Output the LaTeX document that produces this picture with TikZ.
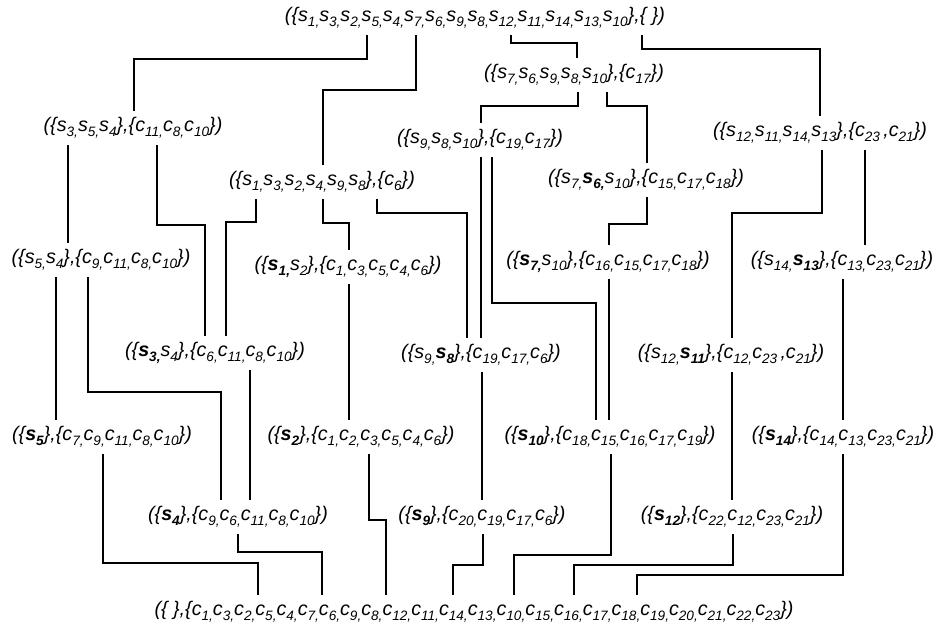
\documentclass[tikz,border=0pt]{standalone}
\usepackage{fontspec}
\setmainfont{Liberation Sans}
\usepackage{tikz}
\newcommand{\labelfont}{\fontsize{19.7}{23}\selectfont\itshape}
\newcommand{\lowsub}[1]{\raisebox{-0.27em}{\fontsize{13.6}{14}\selectfont #1}}
\newcommand{\ssub}[1]{s\lowsub{#1}}
\newcommand{\csub}[1]{c\lowsub{#1}}
\newcommand{\bsub}[1]{\textbf{s\lowsub{#1}}}
\begin{document}
\begin{tikzpicture}[x=1pt,y=-1pt,line width=1.1pt,every node/.style={font=\labelfont,inner xsep=0pt,inner ysep=6pt}]
  \useasboundingbox (0,0) rectangle (935,633);
  \path (475,18) node (t0) {(\{\ssub{1,}\ssub{3,}\ssub{2,}\ssub{5,}\ssub{4,}\ssub{7,}\ssub{6,}\ssub{9,}\ssub{8,}\ssub{12,}\ssub{11,}\ssub{14,}\ssub{13,}\ssub{10}\},\{ \})}
  (574,75) node (t1) {(\{\ssub{7,}\ssub{6,}\ssub{9,}\ssub{8,}\ssub{10}\},\{\csub{17}\})}
  (133,128) node (t2) {(\{\ssub{3,}\ssub{5,}\ssub{4}\},\{\csub{11,}\csub{8,}\csub{10}\})}
  (480,140) node (t3) {(\{\ssub{9,}\ssub{8,}\ssub{10}\},\{\csub{19,}\csub{17}\})}
  (820,133) node (t4) {(\{\ssub{12,}\ssub{11,}\ssub{14,}\ssub{13}\},\{\csub{23}\,,\csub{21}\})}
  (322,182) node (t5) {(\{\ssub{1,}\ssub{3,}\ssub{2,}\ssub{4,}\ssub{9,}\ssub{8}\},\{\csub{6}\})}
  (646,180) node (t6) {(\{\ssub{7,}\bsub{6,}\ssub{10}\},\{\csub{15,}\csub{17,}\csub{18}\})}
  (101,260) node (t7) {(\{\ssub{5,}\ssub{4}\},\{\csub{9,}\csub{11,}\csub{8,}\csub{10}\})}
  (348,267) node (t8) {(\{\bsub{1,}\ssub{2}\},\{\csub{1,}\csub{3,}\csub{5,}\csub{4,}\csub{6}\})}
  (608,262) node (t9) {(\{\bsub{7,}\ssub{10}\},\{\csub{16,}\csub{15,}\csub{17,}\csub{18}\})}
  (842,262) node (t10) {(\{\ssub{14,}\bsub{13}\},\{\csub{13,}\csub{23,}\csub{21}\})}
  (215,353) node (t11) {(\{\bsub{3,}\ssub{4}\},\{\csub{6,}\csub{11,}\csub{8,}\csub{10}\})}
  (481,355) node (t12) {(\{\ssub{9,}\bsub{8}\},\{\csub{19,}\csub{17,}\csub{6}\})}
  (731,355) node (t13) {(\{\ssub{12,}\bsub{11}\},\{\csub{12,}\csub{23}\,,\csub{21}\})}
  (102,437) node (t14) {(\{\bsub{5}\},\{\csub{7,}\csub{9,}\csub{11,}\csub{8,}\csub{10}\})}
  (361,437) node (t15) {(\{\bsub{2}\},\{\csub{1,}\csub{2,}\csub{3,}\csub{5,}\csub{4,}\csub{6}\})}
  (610,437) node (t16) {(\{\bsub{10}\},\{\csub{18,}\csub{15,}\csub{16,}\csub{17,}\csub{19}\})}
  (843,437) node (t17) {(\{\bsub{14}\},\{\csub{14,}\csub{13,}\csub{23,}\csub{21}\})}
  (238,517) node (t18) {(\{\bsub{4}\},\{\csub{9,}\csub{6,}\csub{11,}\csub{8,}\csub{10}\})}
  (482,517) node (t19) {(\{\bsub{9}\},\{\csub{20,}\csub{19,}\csub{17,}\csub{6}\})}
  (732,517) node (t20) {(\{\bsub{12}\},\{\csub{22,}\csub{12,}\csub{23,}\csub{21}\})}
  (474,612) node (t21) {(\{ \},\{\csub{1,}\csub{3,}\csub{2,}\csub{5,}\csub{4,}\csub{7,}\csub{6,}\csub{9,}\csub{8,}\csub{12,}\csub{11,}\csub{14,}\csub{13,}\csub{10,}\csub{15,}\csub{16,}\csub{17,}\csub{18,}\csub{19,}\csub{20,}\csub{21,}\csub{22,}\csub{23}\})};
  \draw (t0.south -| 367,0) |- (134,59) -- (t2.north -| 134,0);
  \draw (t0.south -| 416,0) |- (323,90) -- (t5.north -| 323,0);
  \draw (t0.south -| 511,0) |- (577,43) -- (t1.north -| 577,0);
  \draw (t0.south -| 642,0) |- (820,49) -- (t4.north -| 820,0);
  \draw (t1.south -| 578,0) |- (481,106) -- (t3.north -| 481,0);
  \draw (t1.south -| 607,0) |- (647,106) -- (t6.north -| 647,0);
  \draw (t2.south -| 68,0) -- (t7.north -| 68,0);
  \draw (t2.south -| 157,0) |- (205,225) -- (t11.north -| 205,0);
  \draw (t3.south -| 481,0) -- (t12.north -| 481,0);
  \draw (t3.south -| 492,0) |- (596,303) -- (t16.north -| 596,0);
  \draw (t4.south -| 822,0) |- (732,213) -- (t13.north -| 732,0);
  \draw (t4.south -| 865,0) -- (t10.north -| 865,0);
  \draw (t5.south -| 256,0) |- (226,222) -- (t11.north -| 226,0);
  \draw (t5.south -| 323,0) |- (349,223) -- (t8.north -| 349,0);
  \draw (t5.south -| 377,0) |- (467,213) -- (t12.north -| 467,0);
  \draw (t6.south -| 647,0) |- (609,224) -- (t9.north -| 609,0);
  \draw (t7.south -| 56,0) -- (t14.north -| 56,0);
  \draw (t7.south -| 88,0) |- (221,392) -- (t18.north -| 221,0);
  \draw (t8.south -| 349,0) -- (t15.north -| 349,0);
  \draw (t9.south -| 609,0) -- (t16.north -| 609,0);
  \draw (t10.south -| 843,0) -- (t17.north -| 843,0);
  \draw (t11.south -| 250,0) -- (t18.north -| 250,0);
  \draw (t12.south -| 482,0) -- (t19.north -| 482,0);
  \draw (t13.south -| 732,0) -- (t20.north -| 732,0);
  \draw (t14.south -| 103,0) |- (258,563) -- (t21.north -| 258,0);
  \draw (t15.south -| 369,0) |- (386,520) -- (t21.north -| 386,0);
  \draw (t16.south -| 611,0) |- (514,555) -- (t21.north -| 514,0);
  \draw (t17.south -| 843,0) |- (637,575) -- (t21.north -| 637,0);
  \draw (t18.south -| 238,0) |- (322,552) -- (t21.north -| 322,0);
  \draw (t19.south -| 483,0) |- (453,565) -- (t21.north -| 453,0);
  \draw (t20.south -| 733,0) |- (574,565) -- (t21.north -| 574,0);
\end{tikzpicture}
\end{document}
